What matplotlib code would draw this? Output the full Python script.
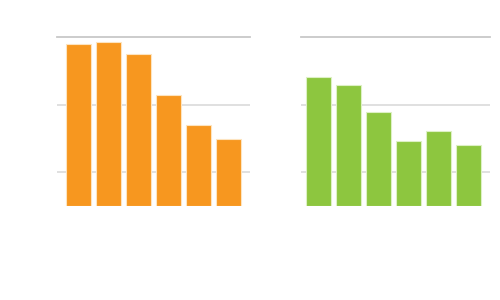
import matplotlib.pyplot as plt

# bar values (axis units: gridlines at 1, 2, 3)
categories = ['A', 'B', 'C', 'D', 'E', 'F']
orange_values = [2.91, 2.93, 2.75, 2.14, 1.70, 1.50]
green_values = [2.42, 2.29, 1.89, 1.47, 1.62, 1.40]
grid_ticks = [1, 2, 3]

fig = plt.figure(figsize=(5, 3), dpi=100)

ax1 = fig.add_axes([57 / 500, 94 / 300, 193 / 500, 168.5 / 300])
ax2 = fig.add_axes([301 / 500, 94 / 300, 189 / 500, 168.5 / 300])

panels = [
    (ax1, orange_values, '#F7971F', (-0.717, 5.72)),
    (ax2, green_values, '#8DC63F', (-0.59, 5.71)),
]

for ax, values, color, xlim in panels:
    x = range(len(categories))
    ax.bar(x, [v - 0.5 for v in values], bottom=0.5, width=0.82,
           color=color, edgecolor='#fde4c0' if color == '#F7971F' else '#ddf0c5',
           linewidth=0.8, zorder=2)
    ax.set_xlim(*xlim)
    ax.set_ylim(0.5, 3.0)
    ax.set_yticks(grid_ticks)
    ax.grid(axis='y', color='#dddddd', linewidth=1.3, zorder=0)
    ax.set_xticks([])
    ax.tick_params(left=False, labelleft=False)
    for s in ax.spines.values():
        s.set_visible(False)
    # top gridline is a touch darker
    ax.axhline(3.0, color='#c8c8c8', linewidth=1.3, zorder=1, clip_on=False)

plt.savefig('out.png')
